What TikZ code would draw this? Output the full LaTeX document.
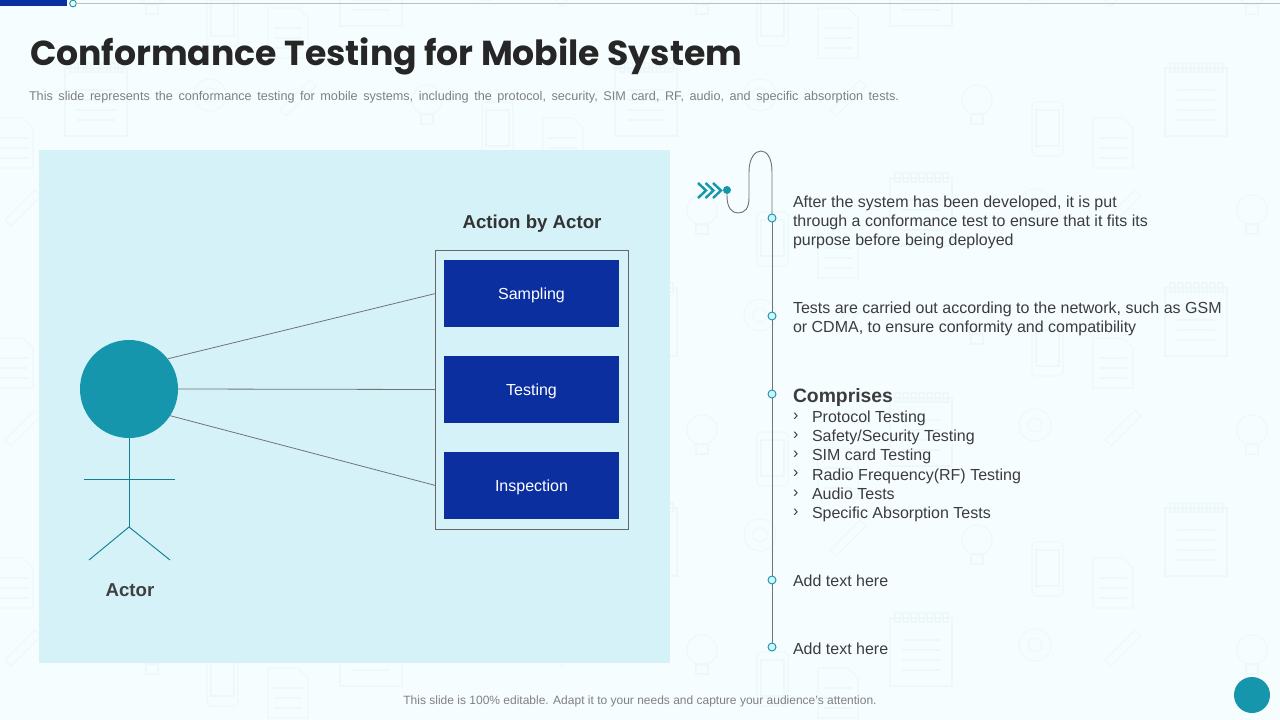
\documentclass[tikz,border=0pt]{standalone}
\usepackage{fontspec}
\setmainfont{Liberation Sans}
\newfontfamily\titlefont{Poppins}
\usetikzlibrary{shapes,arrows,positioning,calc}
\definecolor{teal1}{HTML}{1596AD}
\definecolor{navy1}{HTML}{0B2F9F}
\definecolor{panel1}{HTML}{D3F2F8}
\definecolor{page1}{HTML}{F6FDFF}
\definecolor{icon1}{HTML}{EEF8FB}
\definecolor{body1}{HTML}{3C3C3C}
\begin{document}
\begin{tikzpicture}[x=0.75pt, y=-0.75pt,
  every node/.style={inner sep=0pt, outer sep=0pt},
  actionbox/.style={fill=navy1, minimum width=131.25pt, minimum height=50.25pt},
  actiontext/.style={text=white, font=\fontsize{12}{14}\selectfont},
  stepdot/.style={circle, draw=teal1, fill=panel1, line width=0.7pt, minimum size=6pt},
  bodytext/.style={anchor=north west, align=left, text=body1, font=\fontsize{12}{14.4}\selectfont},
  stick/.style={draw=teal1!85!black, line width=0.7pt},
  wire/.style={draw=gray!90!black, line width=0.6pt},
  bgicon/.style={draw=icon1, line width=0.8pt}]

% Page and faint background
\useasboundingbox (0,0) rectangle (1280,720);
\fill[page1] (0,0) rectangle (1280,720);
\foreach \col in {0,1,2,3,4,5} {
  \foreach \row in {-1,0,1,2,3} {
    \pgfmathsetmacro{\ox}{65+\col*275}
    \pgfmathsetmacro{\oy}{60+\row*220+110*mod(\col,2)}
    \begin{scope}[shift={(\ox,\oy)}]
      % notepad
      \draw[bgicon] (0,8) rectangle (62,76);
      \foreach \k in {5,13,...,53} {\draw[bgicon] (\k,3) rectangle +(5,9);}
      \foreach \k in {30,40,50,60} {\draw[bgicon] (12,\k) -- (50,\k);}
      % bulb
      \draw[bgicon] (-188,40) circle (15);
      \draw[bgicon] (-194,54) rectangle (-182,64);
      % phone
      \draw[bgicon, rounded corners=3pt] (-133,42) rectangle +(31,54);
      \draw[bgicon] (-129,50) rectangle +(23,36);
      % document
      \draw[bgicon] (-72,58) -- +(30,0) -- +(40,10) -- +(40,50) -- +(0,50) -- cycle;
      \foreach \k in {78,88,98} {\draw[bgicon] (-66,\k) -- (-38,\k);}
      % target and pencil
      \draw[bgicon] (-130,145) circle (16);
      \draw[bgicon] (-130,145) circle (7);
      \draw[bgicon] (-60,160) -- +(30,-30) -- +(36,-24) -- +(6,6) -- cycle;
    \end{scope}
  }
}

% Top strip
\fill[navy1] (0,0) rectangle (67,6);
\coordinate (stripend) at (1280,3.5);
\node[stepdot, minimum size=5pt, fill=page1] (stripdot) at (73,3.5) {};
\draw[gray!50, line width=0.8pt] (stripdot) -- (stripend);

% Title
\node[anchor=west, text=black!85, font=\titlefont\bfseries\fontsize{26}{32}\selectfont] (title) at (30,56) {Conformance Testing for Mobile System};
\node[anchor=west, text=gray, font=\fontsize{9.5}{11}\selectfont] (subtitle) at (29,97) {\spaceskip=4.15pt\relax This slide represents the conformance testing for mobile systems, including the protocol, security, SIM card, RF, audio, and specific absorption tests.};

% Left panel
\fill[panel1, fill opacity=0.96] (39,150) rectangle (670,663);

% Actions
\node[draw=gray!80!black, line width=0.6pt, minimum width=144.75pt, minimum height=209.25pt] (frame) at (532,390) {};
\node[actionbox] (sampling) at (531.5,293.5) {};
\node[actionbox] (testing) at (531.5,389.5) {};
\node[actionbox] (inspection) at (531.5,485.5) {};
\node[actiontext] (samplinglabel) at (531.5,295) {Sampling};
\node[actiontext] (testinglabel) at (531.5,391) {Testing};
\node[actiontext] (inspectionlabel) at (531.5,487) {Inspection};
\node[text=black!80, font=\bfseries\fontsize{14}{16}\selectfont] (actionlabel) at (532,224) {Action by Actor};

% Actor
\node[circle, fill=teal1, minimum size=73.5pt] (head) at (129,389) {};
\coordinate (hip) at (129,527);
\coordinate (armleft) at (84,479);
\coordinate (armright) at (175,479);
\coordinate (legleft) at (89,560);
\coordinate (legright) at (170,560);
\draw[stick] (head.south) -- (hip);
\draw[stick] (armleft) -- (armright);
\draw[stick] (legleft) -- (hip) -- (legright);
\node[text=black!75, font=\bfseries\fontsize{14}{16}\selectfont] (actor) at (130,590) {Actor};

% Connections
\draw[wire] (head.38) -- (frame.west |- sampling);
\draw[wire] (head.east) -- (frame.west |- testing);
\draw[wire] (head.-33) -- (frame.west |- inspection);

% Timeline
\node[stepdot] (dota) at (772,218) {};
\node[stepdot] (dotb) at (772,316) {};
\node[stepdot] (dotc) at (772,394) {};
\node[stepdot] (dotd) at (772,580) {};
\node[stepdot] (dote) at (772,647) {};
\node[circle, fill=teal1, minimum size=6pt] (startdot) at (727,190) {};
\draw[gray!90!black, line width=0.7pt] (startdot.south) -- (727,196) .. controls (727,208) and (732,213) .. (738,213)
  .. controls (745,213) and (749,208) .. (749,198) -- (749,172)
  .. controls (749,158) and (755,151) .. (761,151) .. controls (767,151) and (772,158) .. (772,172) -- (dota.north);
\draw[gray!90!black, line width=0.7pt] (dota) -- (dotb);
\draw[gray!90!black, line width=0.7pt] (dotb) -- (dotc);
\draw[gray!90!black, line width=0.7pt] (dotc) -- (dotd);
\draw[gray!90!black, line width=0.7pt] (dotd) -- (dote);
\foreach \x in {698,705.5,713} {
  \draw[teal1, line width=1.8pt] (\x,183) -- +(8,7.5) -- +(0,15);
}

% Text on the right
\node[bodytext] (texta) at (793,196) {After the system has been developed, it is put\\through a conformance test to ensure that it fits its\\purpose before being deployed};
\node[bodytext] (textb) at (793,302) {Tests are carried out according to the network, such as GSM\\or CDMA, to ensure conformity and compatibility};
\node[bodytext, font=\bfseries\fontsize{14.5}{17}\selectfont] (comprises) at (793,388) {Comprises};
\node[bodytext] (listmarks) at (793,413) {›\\›\\›\\›\\›\\›};
\node[bodytext] (listitems) at (812,411) {Protocol Testing\\Safety/Security Testing\\SIM card Testing\\Radio Frequency(RF) Testing\\Audio Tests\\Specific Absorption Tests};
\node[bodytext] (textd) at (793,575) {Add text here};
\node[bodytext] (texte) at (793,643) {Add text here};

% Footer
\node[text=gray, font=\fontsize{9}{11}\selectfont] (footer) at (640,701) {This slide is 100\% editable. Adapt it to your needs and capture your audience's attention.};
\node[circle, fill=teal1, minimum size=27pt] (pagedot) at (1252,695) {};

\end{tikzpicture}
\end{document}
